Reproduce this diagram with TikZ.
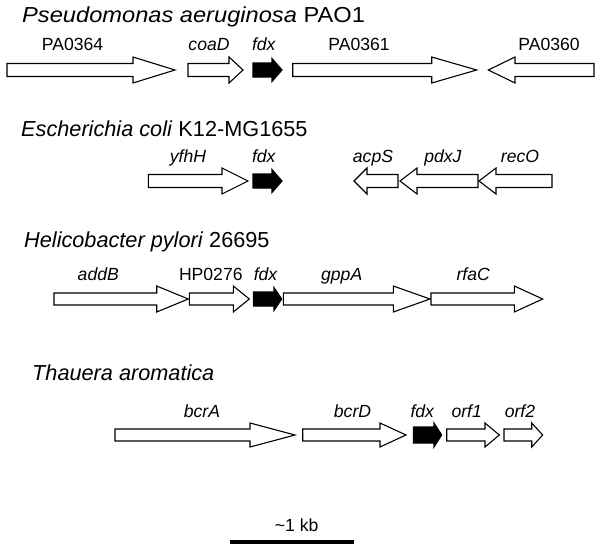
\documentclass[tikz,border=0pt]{standalone}
\usepackage{fontspec}
\usepackage{graphicx}
\setmainfont{Liberation Sans}
\newcommand\geneArrow[7]{%
  \draw[#7] (#1,{#4-#5}) -- (#2,{#4-#5}) -- (#2,{#4-#6}) -- (#3,#4) -- (#2,{#4+#6}) -- (#2,{#4+#5}) -- (#1,{#4+#5}) -- cycle;}
\begin{document}
\begin{tikzpicture}[x=1pt,y=-1pt,
  titletext/.style={anchor=base west, inner sep=0pt, font=\fontsize{21.7}{24}\selectfont},
  lab/.style={anchor=base, inner sep=0pt, font=\fontsize{17.6}{20}\selectfont},
  gene/.style={draw=black, line width=1.1pt, fill=white, line join=miter},
  fdxgene/.style={draw=black, line width=1.1pt, fill=black, line join=miter}]
\fill[white] (0,0) rectangle (600,554);
\useasboundingbox (0,0) rectangle (600,554);

% ---------- Row 1 ----------
\node[titletext] (t1) at (22,22) {\scalebox{1.09}[1]{\textit{Pseudomonas aeruginosa} PAO1}};
\geneArrow{7}{133}{175}{70}{6.5}{13}{gene}
\geneArrow{188}{229}{243}{70}{6.5}{13}{gene}
\geneArrow{253}{272}{282}{70}{7}{11.5}{fdxgene}
\geneArrow{292.7}{431.7}{476.7}{70}{6.5}{13}{gene}
\geneArrow{594}{515}{488.3}{70}{6.5}{13}{gene}
\node[lab] (l11) at (72.5,50) {PA0364};
\node[lab] (l12) at (209,50) {\textit{coaD}};
\node[lab] (l13) at (264,50) {\textit{fdx}};
\node[lab] (l14) at (359,50) {PA0361};
\node[lab] (l15) at (549,50) {PA0360};

% ---------- Row 2 ----------
\node[titletext] (t2) at (21,136) {\textit{Escherichia coli} K12-MG1655};
\geneArrow{148.3}{222}{248}{181}{6.5}{13}{gene}
\geneArrow{253}{272}{282}{181}{7}{11.5}{fdxgene}
\geneArrow{398}{367}{354}{181}{6.5}{13}{gene}
\geneArrow{478}{417}{400}{181}{6.5}{13}{gene}
\geneArrow{552}{496}{479}{181}{6.5}{13}{gene}
\node[lab] (l21) at (188,162) {\textit{yfhH}};
\node[lab] (l22) at (264,162) {\textit{fdx}};
\node[lab] (l23) at (373,162) {\textit{acpS}};
\node[lab] (l24) at (443,162) {\textit{pdxJ}};
\node[lab] (l25) at (520,162) {\textit{recO}};

% ---------- Row 3 ----------
\node[titletext] (t3) at (24,247.7) {\textit{Helicobacter pylori} 26695};
\geneArrow{54}{156.7}{188.3}{299}{6}{13}{gene}
\geneArrow{189.3}{233.3}{249.3}{299}{6}{13}{gene}
\geneArrow{253.3}{274}{281.7}{299}{7}{11.5}{fdxgene}
\geneArrow{283.3}{393.3}{430}{299}{6}{13}{gene}
\geneArrow{431}{514.3}{542.7}{299}{6}{13}{gene}
\node[lab] (l31) at (98.3,280) {\textit{addB}};
\node[lab] (l32) at (210.8,280) {HP0276};
\node[lab] (l33) at (265.8,280) {\textit{fdx}};
\node[lab] (l34) at (341.7,280) {\textit{gppA}};
\node[lab] (l35) at (473.3,280) {\textit{rfaC}};

% ---------- Row 4 ----------
\node[titletext] (t4) at (32,380) {\textit{Thauera aromatica}};
\geneArrow{115}{250}{295}{435}{6}{12}{gene}
\geneArrow{302.7}{380}{406}{435}{6}{12}{gene}
\geneArrow{413.3}{434}{441.7}{435}{8}{12}{fdxgene}
\geneArrow{446.7}{485}{499.3}{435}{6}{12}{gene}
\geneArrow{504}{531.7}{542.7}{435}{6}{12}{gene}
\node[lab] (l41) at (202,417) {\textit{bcrA}};
\node[lab] (l42) at (352.5,417) {\textit{bcrD}};
\node[lab] (l43) at (422.5,417) {\textit{fdx}};
\node[lab] (l44) at (466.7,417) {\textit{orf1}};
\node[lab] (l45) at (520,417) {\textit{orf2}};

% ---------- Scale bar ----------
\node[lab] (kb) at (296.7,531.7) {\textasciitilde1 kb};
\coordinate (sbL) at (230,542);
\coordinate (sbR) at (354,542);
\draw[line width=3.3pt] (sbL) -- (sbR);
\end{tikzpicture}
\end{document}
